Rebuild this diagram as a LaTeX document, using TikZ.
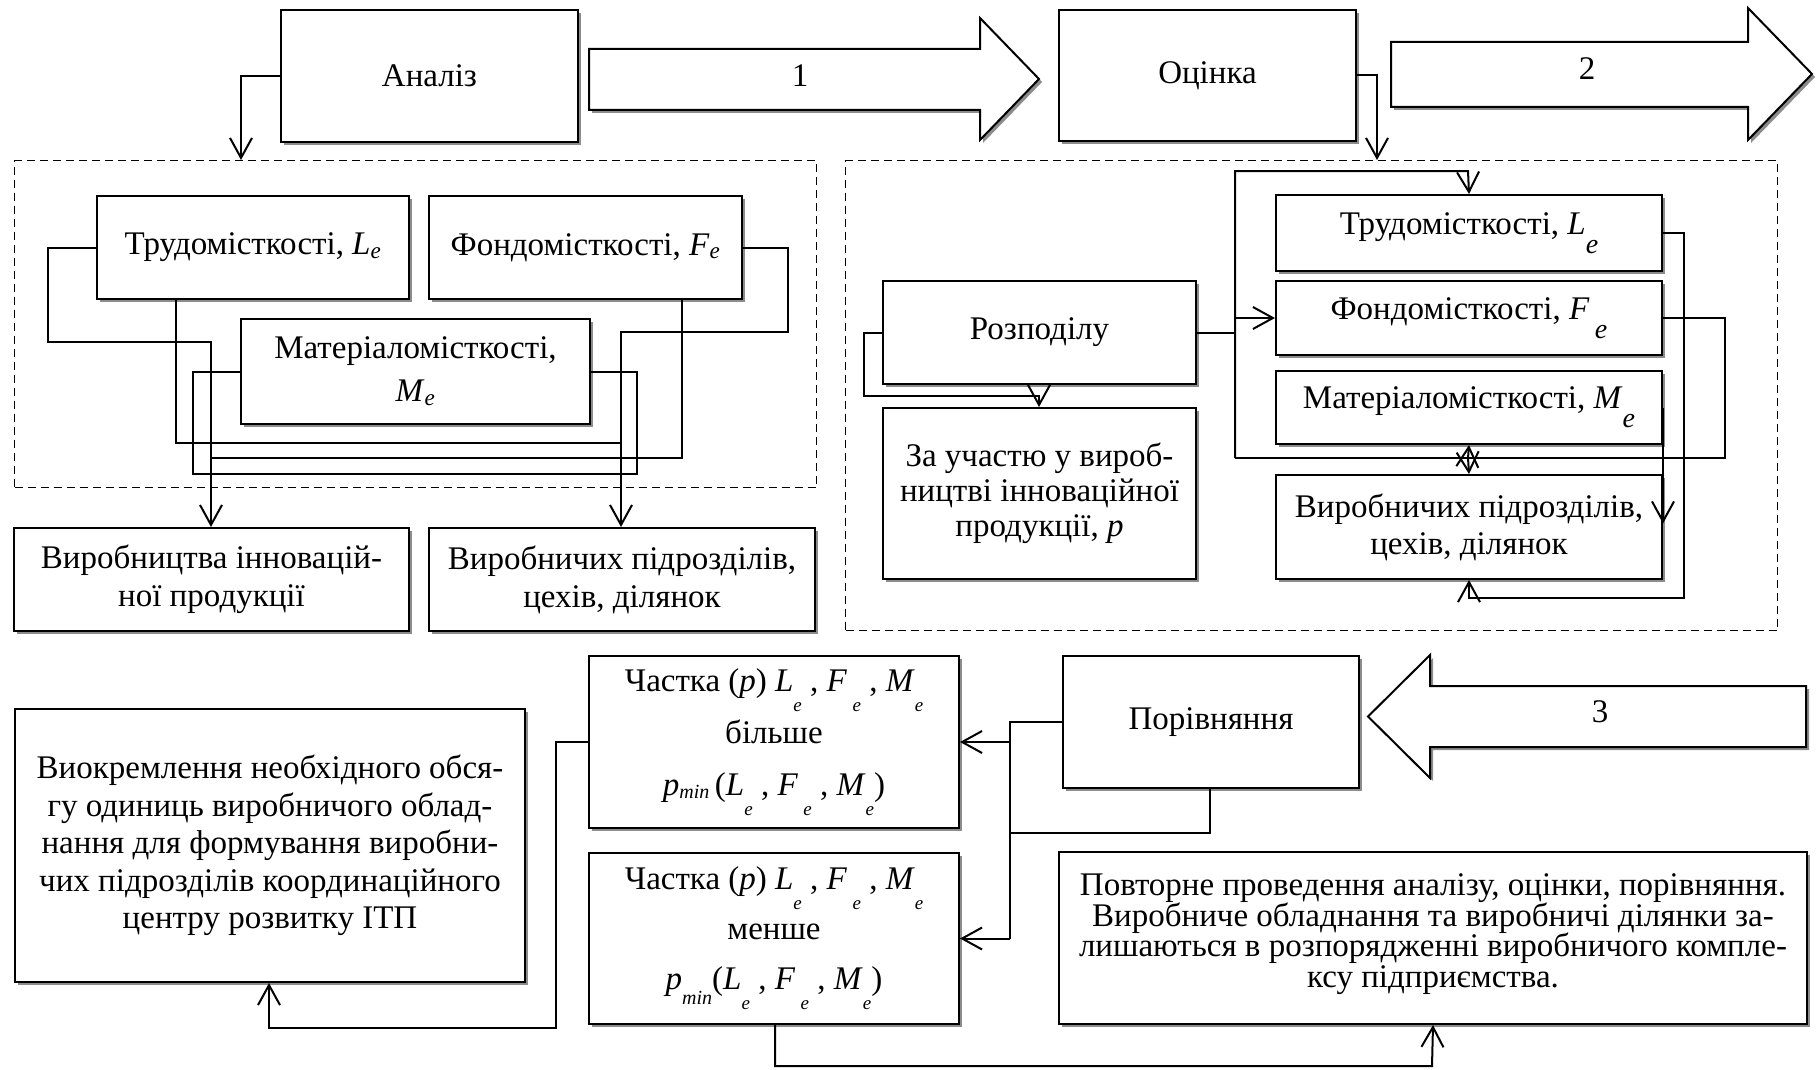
\documentclass[tikz,border=0pt]{standalone}
\usepackage{fontspec}
\setmainfont{Liberation Serif}
\usetikzlibrary{arrows.meta,shadows}

% index set as an ordinary subscript
\newcommand\sbi[1]{\textsubscript{\textit{#1}}}
% index set low, as in an equation object
\newcommand\lwi[1]{\raisebox{-19pt}{\fontsize{28}{28}\selectfont\itshape #1}}
% small low index used in the share formulas
\newcommand\smi[1]{\raisebox{-20pt}{\fontsize{19}{19}\selectfont\itshape #1}}
\newcommand\mini[1]{\raisebox{#1}{\fontsize{20}{20}\selectfont\itshape min}}
% a box: [options] name, x, y (top left), width, height, text
\newcommand\bx[7][]{\node[blk, minimum width=#5pt, minimum height=#6pt, #1] (#2) at (#3,#4) {#7};}

\begin{document}
\begin{tikzpicture}[x=1pt,y=-1pt,
  every node/.style={font=\fontsize{33}{36}\selectfont},
  ls/.style={font={\fontsize{33}{#1}\selectfont\lineskiplimit=-60pt}},
  blk/.style={draw, line width=2pt, fill=white, anchor=north west, inner sep=0pt,
    align=center,
    drop shadow={shadow xshift=3pt, shadow yshift=-3pt, fill=black!45, opacity=1}},
  frame/.style={draw, line width=1.3pt, dash pattern=on 8pt off 5pt, anchor=north west,
    inner sep=0pt},
  link/.style={line width=2pt},
  arr/.style={link, -{Straight Barb[length=20pt,width=22pt]}},
  bigarrow/.style={draw, line width=2pt, fill=white, line join=miter,
    drop shadow={shadow xshift=3pt, shadow yshift=-3pt, fill=black!45, opacity=1}},
]
\useasboundingbox (0,0) rectangle (1819,1070);

% dashed frames
\node[frame, minimum width=802pt, minimum height=327pt] (frL) at (14,160) {};
\node[frame, minimum width=932pt, minimum height=470pt] (frR) at (845,160) {};

% block arrows
\draw[bigarrow] (589,49) -- (980,49) -- (980,18) -- (1039,79) -- (980,140)
  -- (980,110) -- (589,110) -- cycle;
\node (n1) at (800,76) {1};
\draw[bigarrow] (1391,42) -- (1748,42) -- (1748,8) -- (1812,74) -- (1748,140)
  -- (1748,107) -- (1391,107) -- cycle;
\node (n2) at (1587,69) {2};
\draw[bigarrow] (1806,686) -- (1430,686) -- (1430,655) -- (1368,716.5) -- (1430,778)
  -- (1430,747) -- (1806,747) -- cycle;
\node (n3) at (1600,712) {3};

% top row
\bx{an}{280}{9}{297}{132}{Аналіз}
\bx{oc}{1058}{9}{297}{131}{Оцінка}

% analysis block
\bx{trL}{96}{195}{312}{103}{Трудомісткості, \textit{L}\sbi{e}}
\bx{fnL}{428}{195}{313}{103}{Фондомісткості, \textit{F}\sbi{e}}
\bx[ls=43pt]{mtL}{240}{318}{349}{105}{Матеріаломісткості,\\ \textit{M}\sbi{e}}
\bx[ls=38pt]{vpL}{13}{527}{395}{103}{Виробництва інновацій-\\ної продукції}
\bx[ls=38pt]{vcL}{428}{527}{386}{103}{Виробничих підрозділів,\\цехів, ділянок}

% evaluation block
\bx{rz}{882}{280}{313}{103}{Розподілу}
\bx[ls=35pt]{zu}{882}{407}{313}{171}{За участю у вироб-\\ництві інноваційної\\продукції, \textit{p}}
\bx{trR}{1275}{194}{386}{76}{Трудомісткості, \textit{L}\lwi{e}}
\bx{fnR}{1275}{280}{386}{74}{Фондомісткості, \textit{F}\,\lwi{e}}
\bx{mtR}{1275}{370}{386}{73}{Матеріаломісткості, \textit{M}\lwi{e}}
\bx[ls=37pt]{vcR}{1275}{474}{386}{104}{Виробничих підрозділів,\\цехів, ділянок}

% comparison block
\bx[ls=37.5pt]{vk}{14}{708}{510}{273}{Виокремлення необхідного обся-\\гу одиниць виробничого облад-\\нання для формування виробни-\\чих підрозділів координаційного\\центру розвитку ІТП}
\bx[ls=52pt]{cb}{588}{655}{370}{172}{Частка (\textit{p}) \textit{L}\smi{e} , \textit{F}\,\smi{e} , \textit{M}\smi{e}\\більше\\
   \textit{p}\mini{-0.1em}\,(\textit{L}\smi{e} , \textit{F}\,\smi{e} , \textit{M}\smi{e})}
\bx[ls=50pt]{cm}{588}{852}{370}{171}{Частка (\textit{p}) \textit{L}\smi{e} , \textit{F}\,\smi{e} , \textit{M}\smi{e}\\менше\\
   \textit{p}\mini{-0.45em}(\textit{L}\smi{e} , \textit{F}\,\smi{e} , \textit{M}\smi{e})}
\bx{pr}{1062}{655}{296}{132}{Порівняння}
\bx[ls=30.5pt, text depth=15pt]{pv}{1058}{851}{748}{172}{Повторне проведення аналізу, оцінки, порівняння.\\Виробниче обладнання та виробничі ділянки за-\\лишаються в розпорядженні виробничого компле-\\ксу підприємства.}

% connectors: analysis
\draw[arr] (an.west) -| (241,0 |- frL.north);
\draw[arr] (trL.west) -| (48,342) -| (211,0 |- vpL.north);
\draw[link] (176,0 |- trL.south) |- (621,443);
\draw[arr] (fnL.east) -| (788,332) -| (621,0 |- vcL.north);
\draw[link] (682,0 |- fnL.south) |- (211,458);
\draw[link] (mtL.west) -| (193,474) -| (637,0 |- mtL.east) -- (mtL.east);

% connectors: evaluation
\draw[arr] (oc.east) -| (1377,0 |- frR.north);
\draw[arr] (rz.west) -| (864,396) -| (1039,0 |- zu.north);
\draw[link] (rz.east) -- (1235,0 |- rz.east);
\draw[arr] (1235,458) |- (1468,171) -- (trR.north);
\draw[arr] (1235,0 |- fnR.west) -- (fnR.west);
\draw[link] (fnR.east) -| (1725,458) -- (1235,458);
\draw[arr] (1468,458) -- (mtR.south);
\draw[arr] (1468,458) -- (vcR.north);
\draw[arr] (trR.east) -| (1684,598) -| (vcR.south);
\draw[arr] (mtR.east) -- ++(0,116);

% connectors: comparison
\draw[link] (pr.west) -| (1010,0 |- cm.east);
\draw[arr] (1010,0 |- cb.east) -- (cb.east);
\draw[arr] (1010,0 |- cm.east) -- (cm.east);
\draw[link] (1210,0 |- pr.south) |- (1010,833);
\draw[arr] (cb.west) -| (556,1028) -| (269,0 |- vk.south);
\draw[arr] (775,0 |- cm.south) |- (1432,1066) -- (pv.south);
\end{tikzpicture}
\end{document}
